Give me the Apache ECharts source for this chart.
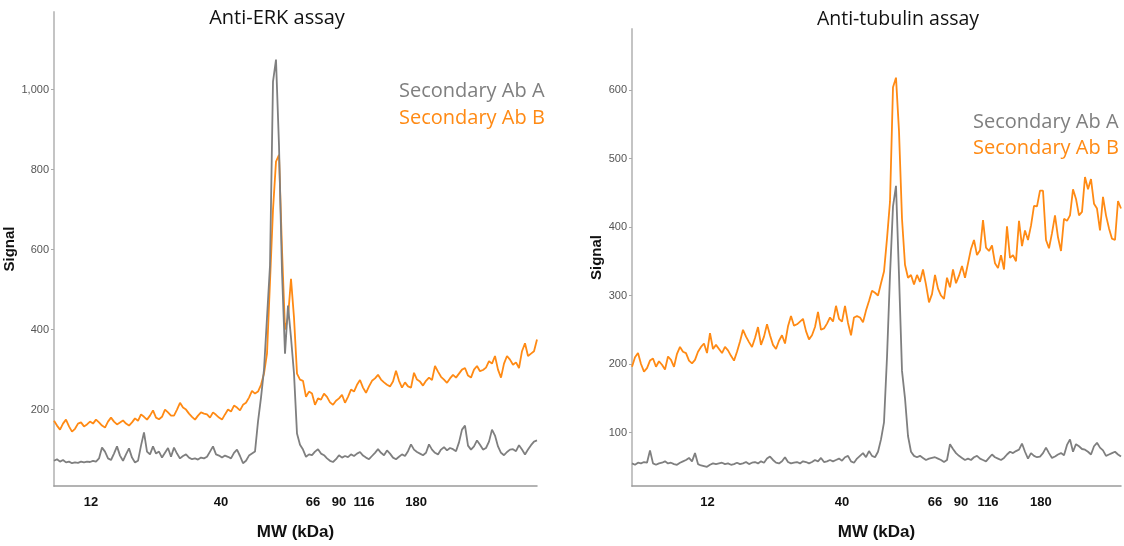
<!DOCTYPE html>
<html><head><meta charset="utf-8">
<script src="https://cdn.jsdelivr.net/npm/echarts@6/dist/echarts.min.js"></script>
<style>html,body{margin:0;padding:0;background:#fff}#c{width:1124px;height:546px}</style>
</head><body><div id="c"></div>
<script>
// ---- Data (signal sampled along migration position, evenly spaced) ----
var seriesNames = ['Secondary Ab A', 'Secondary Ab B'];
var titles = ['Anti-ERK assay', 'Anti-tubulin assay'];
var mwLabels = ['12', '40', '66', '90', '116', '180'];
// marker positions (sample index) along each electropherogram
var erkMarkerPos = [12.3, 55.7, 86.3, 95, 103.3, 120.7];
var tubMarkerPos = [25.2, 70, 101, 109.7, 118.7, 136.3];
var erkYTicks = [200, 400, 600, 800, 1000];
var tubYTicks = [100, 200, 300, 400, 500, 600];

var erkA = [72,76,70,74,68,70,66,68,67,70,68,70,69,72,70,78,105,95,78,74,90,108,85,72,88,103,80,68,72,110,143,95,88,108,90,95,80,92,104,82,105,90,78,84,88,80,76,78,75,80,78,82,95,108,88,85,80,85,82,78,92,100,84,66,72,85,90,95,170,230,300,430,560,1020,1075,860,544,340,460,380,290,140,112,100,82,88,86,95,101,90,86,78,72,69,76,86,80,84,81,88,84,90,94,85,80,76,84,92,101,92,86,98,90,80,76,82,88,84,96,113,100,94,90,86,92,113,100,92,88,100,106,98,104,101,96,118,150,160,110,100,108,123,112,100,104,120,150,135,108,92,86,94,100,101,96,111,100,88,100,111,120,123];
var erkB = [172,160,150,165,175,158,145,152,165,168,158,163,170,165,175,168,160,155,170,180,170,163,168,173,165,160,168,178,172,188,182,175,185,198,180,176,182,200,193,185,185,200,217,205,200,190,182,175,185,193,190,188,180,193,187,180,175,188,200,195,210,205,198,212,217,230,247,240,245,262,290,340,520,700,820,837,600,400,430,527,430,290,275,272,232,245,240,212,228,225,240,232,218,212,222,228,237,217,232,250,245,262,274,255,242,258,272,278,287,275,268,262,258,270,297,272,255,268,258,255,292,275,270,260,272,280,274,309,295,282,275,267,278,287,280,290,300,304,285,280,300,309,296,299,305,321,315,334,300,280,315,334,325,312,318,304,346,366,334,340,346,375];
var tubA = [55,53,56,55,57,56,74,55,53,55,56,58,55,56,54,53,56,58,60,63,58,70,54,52,51,50,53,55,54,55,56,54,55,53,54,56,54,55,57,54,56,57,55,58,56,62,65,60,56,55,58,64,57,55,56,57,55,58,57,55,57,60,58,63,57,58,60,58,60,62,59,64,66,58,56,62,66,70,64,73,66,64,72,90,115,210,330,430,460,330,190,150,95,72,66,64,66,63,60,62,63,64,62,60,57,60,83,76,70,66,63,60,62,60,64,66,62,60,58,63,68,64,62,60,63,68,72,70,73,75,84,72,62,70,66,64,65,70,78,70,63,65,68,70,67,82,90,72,83,80,76,75,72,68,80,85,78,74,66,68,70,72,68,65];
var tubB = [196,210,216,200,189,194,205,208,196,204,199,192,211,206,196,215,225,218,216,205,201,206,218,225,230,216,245,222,228,222,216,225,220,212,205,218,233,250,240,232,225,238,254,228,240,258,242,228,222,234,242,230,255,270,256,258,262,266,248,236,242,254,276,250,252,259,268,262,285,266,262,285,260,242,268,270,268,261,278,292,307,304,300,318,335,383,437,604,618,540,412,345,326,330,316,330,320,338,316,290,302,330,310,300,295,326,312,338,318,329,343,326,347,368,381,359,366,410,370,365,373,347,340,359,338,401,355,359,350,409,372,395,381,402,431,430,453,453,381,369,391,417,385,365,412,409,417,455,441,417,422,473,455,470,434,427,395,444,417,398,383,381,438,427];

// ---- Chart ----
var GRAY = '#7f7f7f', ORANGE = '#ff8a14';
function idx(arr){ return arr.map(function(v,i){ return [i, v]; }); }
function labelFor(pos){ return function(v){ var best=0,d=1e9; pos.forEach(function(p,i){ var e=Math.abs(p-v); if(e<d){d=e;best=i;} }); return mwLabels[best]; }; }
var narrow = "'Liberation Sans Narrow','Liberation Sans',Arial,sans-serif";

function xAxis(gi, n, pos){
  return {
    type:'value', gridIndex:gi, min:0, max:n-1,
    name:'MW (kDa)', nameLocation:'middle', nameGap:38,
    nameTextStyle:{color:'#111', fontSize:17, fontWeight:'bold', fontFamily:narrow},
    axisLine:{show:true, lineStyle:{color:'#9a9a9a', width:1.5}},
    axisTick:{show:false}, splitLine:{show:false},
    axisLabel:{customValues:pos, formatter:labelFor(pos), color:'#111', fontSize:13, fontWeight:'bold', fontFamily:narrow, margin:10}
  };
}
function yAxis(gi, mn, mx, ticks, gap){
  return {
    type:'value', gridIndex:gi, min:mn, max:mx,
    name:'Signal', nameLocation:'middle', nameGap:gap, nameRotate:90,
    nameTextStyle:{color:'#111', fontSize:15, fontWeight:'bold', fontFamily:"'Liberation Sans',Arial,sans-serif"},
    axisLine:{show:true, lineStyle:{color:'#c4c4c4', width:2}},
    axisTick:{show:true, customValues:ticks, length:3, lineStyle:{color:'#aaa'}},
    splitLine:{show:false},
    axisLabel:{customValues:ticks, color:'#555', fontSize:11, fontFamily:narrow, margin:5,
      formatter:function(v){ return v.toLocaleString('en-US'); }}
  };
}
function line(name, data, gi, color){
  return {type:'line', name:name, xAxisIndex:gi, yAxisIndex:gi, data:idx(data), showSymbol:false, symbol:'none',
    lineStyle:{color:color, width:1.8}, itemStyle:{color:color}, animation:false, z: name===seriesNames[0]?3:2};
}
var titleFont = "'Open Sans','Liberation Sans',sans-serif";
var chart = echarts.init(document.getElementById('c'), null, {renderer:'canvas'});
chart.setOption({
  animation:false,
  title:[
    {text:titles[0], left:272, top:3, textAlign:'center', textStyle:{fontSize:20, fontWeight:'normal', color:'#111', fontFamily:titleFont}},
    {text:titles[1], left:893, top:4, textAlign:'center', textStyle:{fontSize:19.5, fontWeight:'normal', color:'#111', fontFamily:titleFont}}
  ],
  legend:[
    {left:389, top:76, orient:'vertical', icon:'none', itemGap:7, itemWidth:0, selectedMode:false,
     textStyle:{fontSize:20, fontFamily:titleFont},
     data:[{name:seriesNames[0], textStyle:{color:GRAY}},{name:seriesNames[1], textStyle:{color:ORANGE}}]},
    {left:963, top:107, orient:'vertical', icon:'none', itemGap:6, itemWidth:0, selectedMode:false,
     textStyle:{fontSize:20, fontFamily:titleFont},
     data:[{name:seriesNames[0], textStyle:{color:GRAY}},{name:seriesNames[1], textStyle:{color:ORANGE}}]}
  ],
  grid:[
    {left:54, top:12, width:483, height:477, containLabel:false},
    {left:632, top:29, width:489, height:462, containLabel:false}
  ],
  xAxis:[xAxis(0, erkA.length, erkMarkerPos), xAxis(1, tubA.length, tubMarkerPos)],
  yAxis:[yAxis(0, 9, 1194, erkYTicks, 25), yAxis(1, 22, 689, tubYTicks, 22)],
  series:[
    line(seriesNames[1], erkB, 0, ORANGE), line(seriesNames[0], erkA, 0, GRAY),
    line(seriesNames[1], tubB, 1, ORANGE), line(seriesNames[0], tubA, 1, GRAY)
  ]
});
</script></body></html>
